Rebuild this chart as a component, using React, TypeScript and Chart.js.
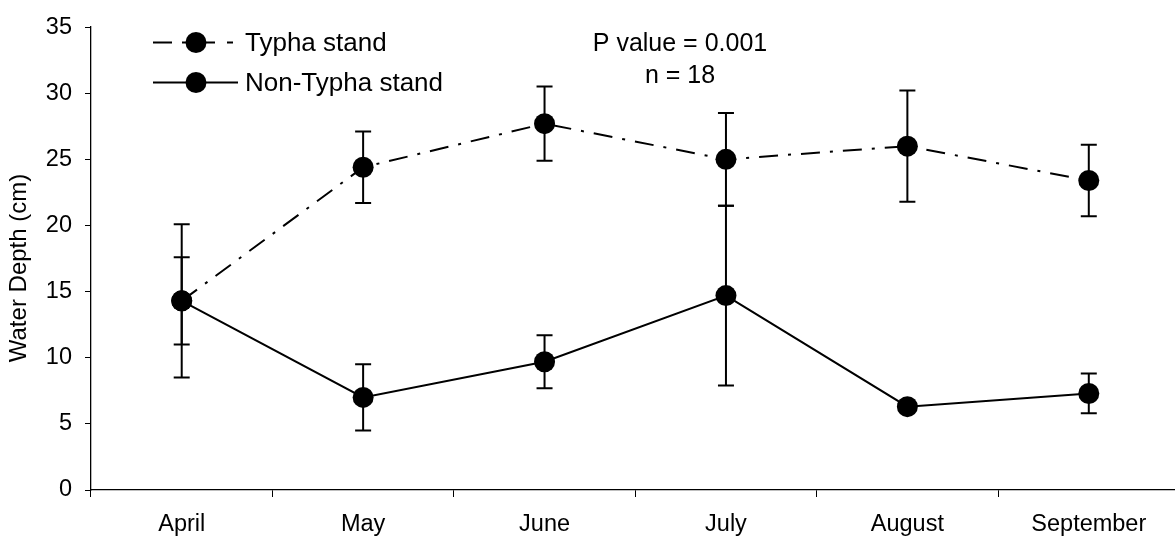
import React, { useEffect, useRef } from "react";
import { Chart, registerables } from "chart.js";

Chart.register(...registerables);

const months = ["April", "May", "June", "July", "August", "September"];
const typhaMean = [14.3, 24.4, 27.7, 25.0, 26.0, 23.4];
const typhaErr = [3.3, 2.7, 2.8, 3.5, 4.2, 2.7];
const nonTyphaMean = [14.3, 7.0, 9.7, 14.7, 6.3, 7.3];
const nonTyphaErr = [5.8, 2.5, 2.0, 6.8, 0.0, 1.5];
const seriesNames = ["Typha stand", "Non-Typha stand"];
const noteLines = ["P value = 0.001", "n = 18"];
const yTitle = "Water Depth (cm)";
const yMin = 0;
const yMax = 35;
const yStep = 5;

const FONT = "'Liberation Sans', Arial, sans-serif";
const CANVAS_W = 1190;
const CANVAS_H = 540;

const errorBars = {
  id: "errorBars",
  beforeDatasetsDraw(chart: any) {
    const ctx = chart.ctx;
    const xs = chart.scales.x;
    const ys = chart.scales.y;
    const sets = [
      { mean: typhaMean, err: typhaErr },
      { mean: nonTyphaMean, err: nonTyphaErr },
    ];
    ctx.save();
    ctx.strokeStyle = "#000";
    ctx.lineWidth = 2;
    sets.forEach((s) => {
      s.mean.forEach((m, j) => {
        const e = s.err[j];
        if (!e) return;
        const x = xs.getPixelForValue(j);
        const yt = ys.getPixelForValue(m + e);
        const yb = ys.getPixelForValue(m - e);
        ctx.beginPath();
        ctx.moveTo(x, yt);
        ctx.lineTo(x, yb);
        ctx.moveTo(x - 8, yt);
        ctx.lineTo(x + 8, yt);
        ctx.moveTo(x - 8, yb);
        ctx.lineTo(x + 8, yb);
        ctx.stroke();
      });
    });
    ctx.restore();
  },
};

const decorations = {
  id: "decorations",
  afterDraw(chart: any) {
    const ctx = chart.ctx;
    ctx.save();
    ctx.fillStyle = "#000";
    ctx.strokeStyle = "#000";
    ctx.textBaseline = "middle";

    // legend
    ctx.font = `26px ${FONT}`;
    const rows = [42.5, 82.5];
    rows.forEach((y, i) => {
      ctx.lineWidth = 2;
      ctx.setLineDash(i === 0 ? [19, 10, 33, 12, 6, 20] : []);
      ctx.beginPath();
      ctx.moveTo(153, y);
      ctx.lineTo(238, y);
      ctx.stroke();
      ctx.setLineDash([]);
      ctx.beginPath();
      ctx.arc(196, y, 10.5, 0, Math.PI * 2);
      ctx.fill();
      ctx.textAlign = "left";
      ctx.fillText(seriesNames[i], 245, y + 1);
    });

    // note
    ctx.font = `25px ${FONT}`;
    ctx.textAlign = "center";
    ctx.fillText(noteLines[0], 680, 44);
    ctx.fillText(noteLines[1], 680, 76);

    // y title
    ctx.font = `24px ${FONT}`;
    ctx.translate(19, 268);
    ctx.rotate(-Math.PI / 2);
    ctx.textAlign = "center";
    ctx.fillText(yTitle, 0, 0);
    ctx.restore();
  },
};

export default function App() {
  const ref = useRef<HTMLCanvasElement | null>(null);

  useEffect(() => {
    if (!ref.current) return;
    const chart = new Chart(ref.current, {
      type: "line",
      data: {
        labels: months,
        datasets: [
          {
            label: seriesNames[0],
            data: typhaMean,
            borderColor: "#000",
            backgroundColor: "#000",
            borderWidth: 2,
            borderDash: [19, 10, 3, 10],
            pointRadius: 10.5,
            pointHoverRadius: 10.5,
            pointBackgroundColor: "#000",
            pointBorderWidth: 0,
            tension: 0,
            fill: false,
          },
          {
            label: seriesNames[1],
            data: nonTyphaMean,
            borderColor: "#000",
            backgroundColor: "#000",
            borderWidth: 2,
            pointRadius: 10.5,
            pointHoverRadius: 10.5,
            pointBackgroundColor: "#000",
            pointBorderWidth: 0,
            tension: 0,
            fill: false,
          },
        ],
      },
      options: {
        animation: false,
        responsive: false,
        devicePixelRatio: 1,
        layout: { padding: { top: 20, right: CANVAS_W - 1183, left: 0, bottom: 0 } },
        plugins: {
          legend: { display: false },
          tooltip: { enabled: false },
        },
        scales: {
          x: {
            type: "category",
            offset: true,
            grid: {
              display: true,
              drawOnChartArea: false,
              drawTicks: true,
              tickLength: 7,
              color: "#000",
              offset: true,
            },
            border: { display: true, color: "#000", width: 1.3 },
            ticks: {
              color: "#000",
              font: { family: FONT, size: 23.5 },
              padding: 13,
              maxRotation: 0,
              autoSkip: false,
            },
            afterFit: (s: any) => {
              s.height = 50;
            },
          },
          y: {
            min: yMin,
            max: yMax,
            ticks: {
              stepSize: yStep,
              color: "#000",
              font: { family: FONT, size: 23.5 },
              padding: 13,
            },
            grid: {
              drawOnChartArea: false,
              drawTicks: true,
              tickLength: 6,
              color: "#000",
            },
            border: { display: true, color: "#000", width: 1.3 },
            afterFit: (s: any) => {
              s.width = 91;
            },
          },
        },
      },
      plugins: [errorBars, decorations],
    });
    return () => chart.destroy();
  }, []);

  return (
    <div
      style={{
        position: "absolute",
        left: 0,
        top: 0,
        width: 1175,
        height: 540,
        overflow: "hidden",
        background: "#fff",
      }}
    >
      <canvas ref={ref} width={CANVAS_W} height={CANVAS_H} style={{ display: "block" }} />
    </div>
  );
}
